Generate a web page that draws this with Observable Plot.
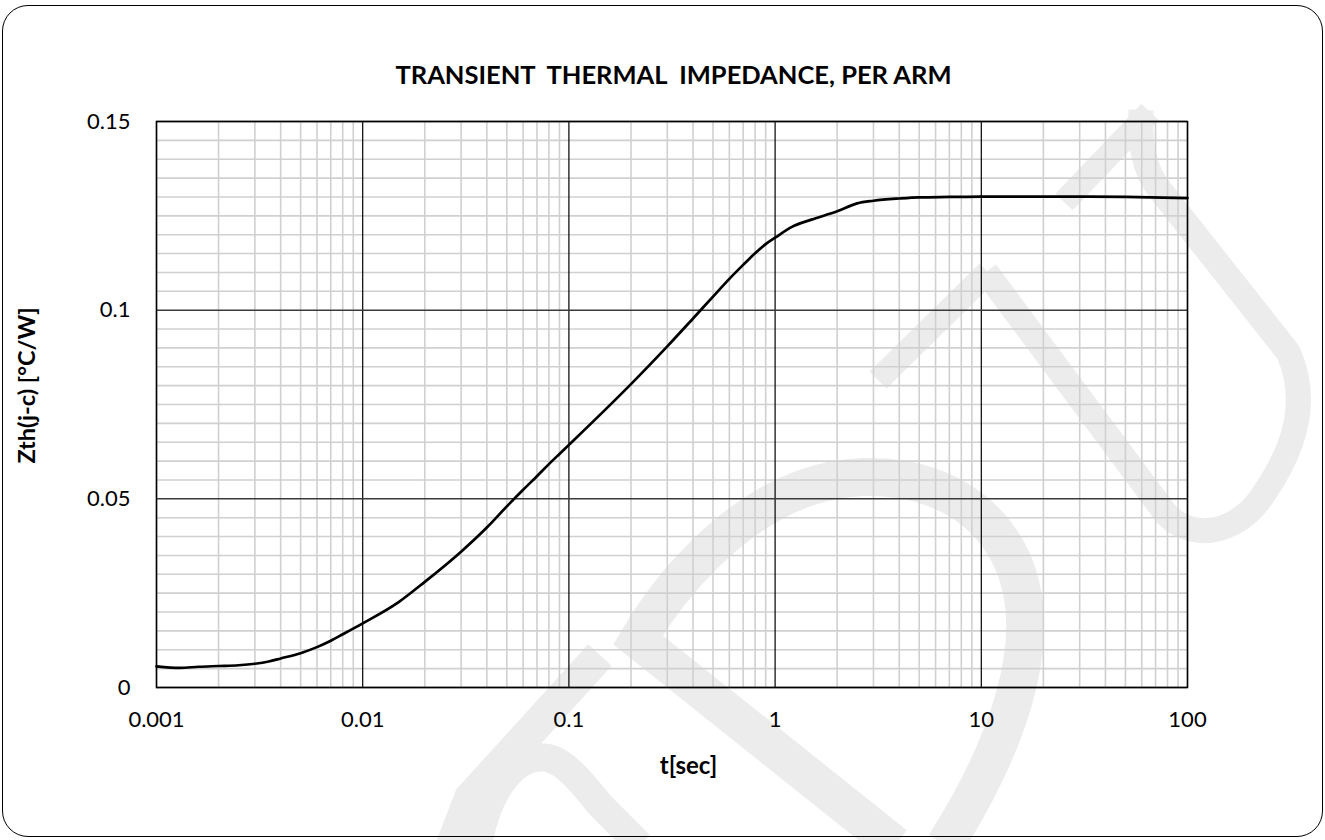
<!DOCTYPE html>
<html><head><meta charset="utf-8">
<script src="https://cdn.jsdelivr.net/npm/d3@7"></script>
<script src="https://cdn.jsdelivr.net/npm/@observablehq/plot@0.6"></script>
<style>
body{margin:0;background:#fff;}
#wrap{position:relative;width:1325px;height:840px;overflow:hidden;}
#wrap > svg{position:absolute;left:0;top:0;}
#border{position:absolute;left:2px;top:5px;width:1321px;height:832px;border:1.5px solid #000;border-radius:26px;box-sizing:border-box;pointer-events:none;z-index:2}
#wrap svg text{white-space:pre;}
</style></head><body><div id="wrap">
<!-- decorative background watermark (not data) -->
<svg id="watermark" width="1325" height="840" style="position:absolute;left:0;top:0">
  <g fill="none" stroke="#ececec" stroke-linecap="butt">
    <path d="M 878,380 L 988,272" stroke-width="24"/>
    <path d="M 1064,202 L 1150,112" stroke-width="24"/>
    <path d="M 986,272 L 1163,510 C 1185,540 1235,540 1265,492 C 1295,448 1310,400 1288,352 L 1160,190 C 1142,168 1140,140 1141,110" stroke-width="25"/>
    <path d="M 945,845 C 1005,750 1048,640 1012,560 C 975,480 880,462 805,488 C 730,515 670,585 638,640 L 895,845" stroke-width="38"/>
    <path d="M 452,845 L 470,798 L 600,655" stroke-width="32"/>
    <path d="M 478,845 C 488,790 515,752 548,758 C 565,762 580,780 600,805 L 640,845" stroke-width="28"/>
  </g>
</svg>
<div id="border"></div></div>
<script>
const title = "TRANSIENT  THERMAL  IMPEDANCE, PER ARM";
const xLabel = "t[sec]";
const yLabel = "Zth(j-c) [°C/W]";
const tValues = [0.001, 0.0013, 0.0016, 0.002, 0.0025, 0.003, 0.0035, 0.004, 0.005, 0.006, 0.007, 0.008, 0.01, 0.015, 0.02, 0.03, 0.04, 0.05, 0.06, 0.07, 0.08, 0.09, 0.1, 0.2, 0.3, 0.4, 0.5, 0.6, 0.7, 0.8, 0.9, 1, 1.2, 1.5, 2, 2.5, 3, 4, 5, 7, 10, 20, 30, 50, 100];
const zthValues = [0.0056, 0.0052, 0.0055, 0.0057, 0.0059, 0.0063, 0.0069, 0.0077, 0.0091, 0.0107, 0.0124, 0.0141, 0.0170, 0.0227, 0.0280, 0.0360, 0.0424, 0.0480, 0.0524, 0.0560, 0.0592, 0.0619, 0.0643, 0.0804, 0.0904, 0.0978, 0.1036, 0.1083, 0.1120, 0.1151, 0.1175, 0.1192, 0.1220, 0.1240, 0.1262, 0.1283, 0.1290, 0.1296, 0.1299, 0.1300, 0.1301, 0.1301, 0.1301, 0.1300, 0.1297];
const xTicks = [0.001, 0.01, 0.1, 1, 10, 100];
const xTickLabels = ["0.001", "0.01", "0.1", "1", "10", "100"];
const yTicks = [0, 0.05, 0.1, 0.15];
const yTickLabels = ["0", "0.05", "0.1", "0.15"];

const data = tValues.map((t, i) => ({t, z: zthValues[i]}));
const xLabelMap = new Map(xTicks.map((d, i) => [d, xTickLabels[i]]));
const yLabelMap = new Map(yTicks.map((d, i) => [d, yTickLabels[i]]));
const xMinor = [];
for (const d of xTicks.slice(0, -1)) for (let k = 2; k <= 9; k++) xMinor.push(d * k);
const yMinor = d3.range(0, 31).map(i => i * 0.005).filter(v => Math.abs(v / 0.05 - Math.round(v / 0.05)) > 1e-6);

const chart = Plot.plot({
  width: 1325, height: 840,
  marginLeft: 156, marginRight: 138, marginTop: 121, marginBottom: 153,
  style: {fontFamily: "Lato, sans-serif", fontSize: "22px", background: "transparent", color: "#000"},
  x: {type: "log", domain: [0.001, 100]},
  y: {domain: [0, 0.15]},
  marks: [
    Plot.ruleX(xMinor, {stroke: "#d0d0d0", strokeWidth: 1.6}),
    Plot.ruleY(yMinor, {stroke: "#d0d0d0", strokeWidth: 1.6}),
    Plot.ruleX(xTicks, {stroke: "#000", strokeWidth: 1.2}),
    Plot.ruleY(yTicks, {stroke: "#3a3a3a", strokeWidth: 1.5}),
    Plot.frame({stroke: "#000", strokeWidth: 1.5}),
    Plot.line(data, {x: "t", y: "z", curve: "monotone-x", stroke: "#000", strokeWidth: 2.7}),
    Plot.axisX(xTicks, {tickSize: 0, tickPadding: 24, tickFormat: d => xLabelMap.get(d), label: null, fontSize: 22}),
    Plot.axisY(yTicks, {tickSize: 0, tickPadding: 26, tickFormat: d => yLabelMap.get(d), label: null, fontSize: 22}),
    Plot.text([title], {frameAnchor: "top", lineAnchor: "middle", dy: -46, dx: 1.5, fontWeight: "bold", fontSize: 25.5}),
    Plot.text([xLabel], {frameAnchor: "bottom", lineAnchor: "middle", dy: 79, dx: 16.5, fontWeight: "bold", fontSize: 24}),
    Plot.text([yLabel], {frameAnchor: "left", textAnchor: "middle", lineAnchor: "middle", rotate: -90, dx: -129, dy: -19, fontWeight: "bold", fontSize: 23.5})
  ]
});
document.getElementById("wrap").appendChild(chart);
</script>
</body></html>
